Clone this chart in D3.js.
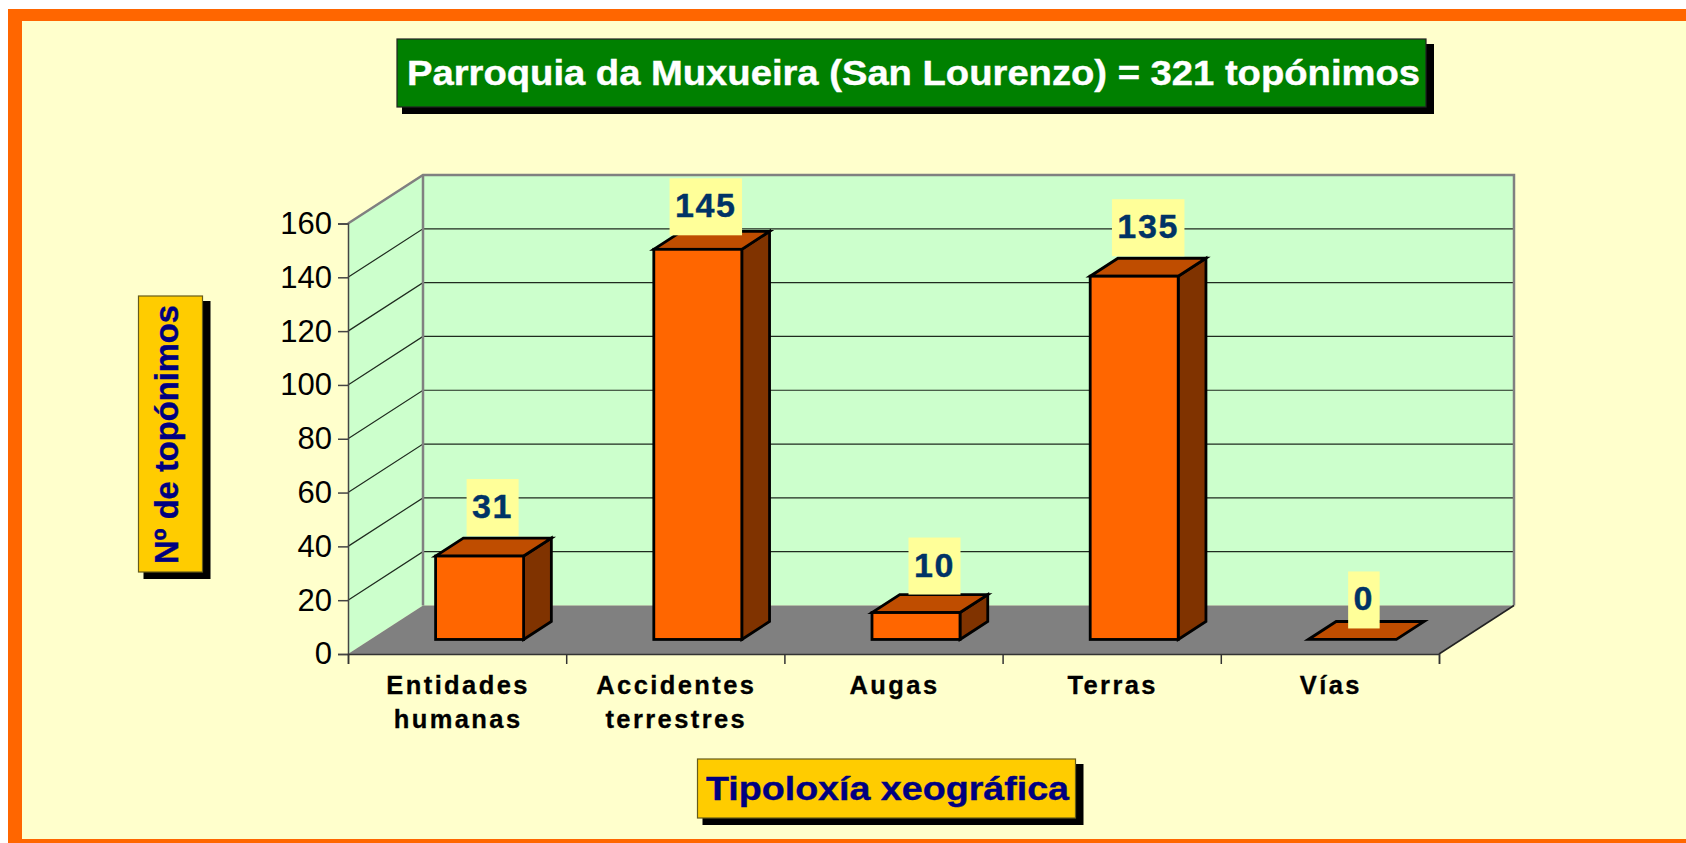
<!DOCTYPE html>
<html>
<head>
<meta charset="utf-8">
<script src="https://cdn.jsdelivr.net/npm/d3@7"></script>
<style>
  body { margin: 0; background: #fff; overflow: hidden; }
  text { font-family: "Liberation Sans", Arial, sans-serif; }
</style>
</head>
<body>
<div id="d3-container"></div>
<script>
/* DATA */
const categories = [["Entidades", "humanas"], ["Accidentes", "terrestres"], ["Augas"], ["Terras"], ["Vías"]];
const values = [31, 145, 10, 135, 0];
const valueTicks = [0, 20, 40, 60, 80, 100, 120, 140, 160];
const chartTitle = "Parroquia da Muxueira (San Lourenzo) = 321 topónimos";
const yTitle = "Nº de topónimos";
const xTitle = "Tipoloxía xeográfica";

/* CONSTANTS */
const width = 1686, height = 843;
const plot = { left: 348, right: 1439, top: 223.5, bottom: 654 };
const depthX = 75, depthY = 48.5; // how far the back wall sits from the front of the floor
const barFront = 0.3, barBack = 0.67, barWidth = 88;

const colors = {
  frame: "#ff6600", paper: "#ffffcc", wall: "#ccffcc", floor: "#808080", edge: "#808080",
  barFront: "#ff6600", barTop: "#bf4d00", barSide: "#803300",
  labelBox: "#ffff99", labelText: "#003366", titleBox: "#008000", axisBox: "#ffcc00", axisText: "#000080"
};

const svg = d3.select("#d3-container").append("svg")
  .attr("width", width)
  .attr("height", height)
  .style("display", "block");

// frame around the picture, it runs off the right edge
svg.append("rect").attr("x", 8).attr("y", 9).attr("width", width).attr("height", height).attr("fill", colors.frame);
svg.append("rect").attr("x", 22).attr("y", 21).attr("width", width).attr("height", 818).attr("fill", colors.paper);

/* SCALES */
const xScale = d3.scaleBand().domain(d3.range(categories.length)).range([plot.left, plot.right]);
const yScale = d3.scaleLinear().domain([0, 160]).range([plot.bottom, plot.top]);

// fake 3d: depth 0 is the front of the floor, depth 1 the back wall
const px = (x, depth) => x + depth * depthX;
const py = (v, depth) => yScale(v) - depth * depthY;
const poly = pts => pts.map(p => p.join(",")).join(" ");

/* WALLS AND FLOOR */
const x0 = plot.left, x1 = plot.right;
svg.append("polygon")
  .attr("points", poly([[px(x0, 1), py(0, 1)], [px(x1, 1), py(0, 1)], [px(x1, 1), py(160, 1)], [px(x0, 1), py(160, 1)]]))
  .attr("fill", colors.wall);
svg.append("polygon")
  .attr("points", poly([[x0, py(0, 0)], [px(x0, 1), py(0, 1)], [px(x0, 1), py(160, 1)], [x0, py(160, 0)]]))
  .attr("fill", colors.wall);

// gridlines, side wall + back wall
const grid = svg.append("g").attr("fill", "none").attr("stroke", "#1f2b1f").attr("stroke-width", 1.2);
grid.selectAll("polyline")
  .data(valueTicks.filter(d => d > 0 && d < 160))
  .join("polyline")
  .attr("points", d => poly([[x0, py(d, 0)], [px(x0, 1), py(d, 1)], [px(x1, 1), py(d, 1)]]));

svg.append("polygon")
  .attr("points", poly([[x0, py(0, 0)], [x1, py(0, 0)], [px(x1, 1), py(0, 1)], [px(x0, 1), py(0, 1)]]))
  .attr("fill", colors.floor);

// gray outline of the walls
svg.append("polyline")
  .attr("points", poly([[x0, py(160, 0)], [px(x0, 1), py(160, 1)], [px(x1, 1), py(160, 1)], [px(x1, 1), py(0, 1)]]))
  .attr("fill", "none").attr("stroke", colors.edge).attr("stroke-width", 2.5);
svg.append("line")
  .attr("x1", px(x0, 1)).attr("x2", px(x0, 1)).attr("y1", py(0, 1)).attr("y2", py(160, 1))
  .attr("stroke", colors.edge).attr("stroke-width", 2.5);
svg.append("line")
  .attr("x1", x1).attr("y1", py(0, 0)).attr("x2", px(x1, 1)).attr("y2", py(0, 1))
  .attr("stroke", "#222").attr("stroke-width", 1.5);

/* AXES */
const yAxis = d3.axisLeft(yScale).tickValues(valueTicks).tickSize(10).tickPadding(6);
const yAxisGroup = svg.append("g")
  .attr("class", "yAxis")
  .attr("transform", `translate(${plot.left},0)`)
  .call(yAxis);
yAxisGroup.selectAll("text").style("font-size", "31px").attr("fill", "#000");
yAxisGroup.selectAll("line, path").attr("stroke", "#444").attr("stroke-width", 1.5);

const xAxis = d3.axisBottom(d3.scaleLinear().domain([0, categories.length]).range([plot.left, plot.right]))
  .ticks(categories.length).tickSize(10).tickFormat("");
const xAxisGroup = svg.append("g")
  .attr("class", "xAxis")
  .attr("transform", `translate(0,${plot.bottom})`)
  .call(xAxis);
xAxisGroup.selectAll("line, path").attr("stroke", "#333").attr("stroke-width", 1.5);

svg.append("g").selectAll("text")
  .data(categories)
  .join("text")
  .attr("text-anchor", "middle")
  .attr("y", 694)
  .style("font-size", "25.5px")
  .style("font-weight", "bold")
  .style("letter-spacing", "2.4px")
  .attr("fill", "#000")
  .attr("stroke", "#000")
  .attr("stroke-width", 0.3)
  .each(function (lines, i) {
    d3.select(this).selectAll("tspan")
      .data(lines)
      .join("tspan")
      .attr("x", xScale(i) + xScale.bandwidth() / 2 + 1)
      .attr("dy", (d, j) => j ? 33.7 : 0)
      .text(d => d);
  });

/* BARS */
const barLeft = i => px(xScale(i) + xScale.bandwidth() / 2 - barWidth / 2, barFront);
const bars = svg.append("g")
  .attr("stroke", "#000")
  .attr("stroke-width", 2.8)
  .attr("stroke-linejoin", "miter")
  .selectAll("g")
  .data(values)
  .join("g");

// front and side are skipped for the empty bar, only its flat top shows
bars.filter(d => d > 0).append("polygon")
  .attr("fill", colors.barSide)
  .attr("points", d => {
    const r = barLeft(values.indexOf(d)) + barWidth, dx = (barBack - barFront) * depthX;
    return poly([[r, py(0, barFront)], [r + dx, py(0, barBack)], [r + dx, py(d, barBack)], [r, py(d, barFront)]]);
  });
bars.append("polygon")
  .attr("fill", colors.barTop)
  .attr("points", d => {
    const l = barLeft(values.indexOf(d)), dx = (barBack - barFront) * depthX;
    return poly([[l, py(d, barFront)], [l + barWidth, py(d, barFront)], [l + barWidth + dx, py(d, barBack)], [l + dx, py(d, barBack)]]);
  });
bars.filter(d => d > 0).append("rect")
  .attr("fill", colors.barFront)
  .attr("x", d => barLeft(values.indexOf(d)))
  .attr("width", barWidth)
  .attr("y", d => py(d, barFront))
  .attr("height", d => py(0, barFront) - py(d, barFront));

/* DATA LABELS */
// the labels were dragged by hand in the original, so each has its own shift from its bar
const labelShift = [[13, 20], [8, 14], [18.5, 18], [14, 20], [11.5, 11]];
const labels = svg.append("g").selectAll("g")
  .data(values)
  .join("g")
  .attr("transform", (d, i) => {
    const cx = barLeft(i) + barWidth / 2 + labelShift[i][0];
    return `translate(${cx},${py(d, barFront) - labelShift[i][1]})`;
  });
labels.append("rect")
  .attr("x", d => -(String(d).length * 20.5 + 11) / 2)
  .attr("width", d => String(d).length * 20.5 + 11)
  .attr("y", -57)
  .attr("height", 57)
  .attr("fill", colors.labelBox);
labels.append("text")
  .attr("text-anchor", "middle")
  .attr("y", -18)
  .style("font-size", "34px")
  .style("font-weight", "bold")
  .style("letter-spacing", "1.7px")
  .attr("fill", colors.labelText)
  .attr("stroke", colors.labelText)
  .attr("stroke-width", 0.4)
  .text(d => d);

/* TITLE BOXES */
// box with a black drop shadow, the text gets squeezed to the width it has in the picture
function titleBox(box, fill, border) {
  svg.append("rect")
    .attr("x", box.x + 5).attr("y", box.y + 5)
    .attr("width", box.w + 3).attr("height", box.h + 2)
    .attr("fill", "#000");
  svg.append("rect")
    .attr("x", box.x).attr("y", box.y)
    .attr("width", box.w).attr("height", box.h)
    .attr("fill", fill)
    .attr("stroke", border)
    .attr("stroke-width", 1.2);
}
function fitText(sel, len, size, fill) {
  return sel
    .style("font-size", size + "px")
    .style("font-weight", "bold")
    .attr("fill", fill)
    .attr("stroke", fill)
    .attr("stroke-width", 0.4)
    .attr("textLength", len)
    .attr("lengthAdjust", "spacingAndGlyphs");
}

titleBox({ x: 397, y: 39, w: 1029, h: 68 }, colors.titleBox, "#222");
fitText(svg.append("text").attr("x", 407).attr("y", 85).text(chartTitle), 1013, 35, "#fff");

titleBox({ x: 138.5, y: 296, w: 64, h: 276 }, colors.axisBox, "#665c1a");
fitText(svg.append("text").attr("transform", "translate(178,564) rotate(-90)").text(yTitle), 259, 34, colors.axisText);

titleBox({ x: 697.5, y: 759, w: 378, h: 59 }, colors.axisBox, "#665c1a");
fitText(svg.append("text").attr("x", 706).attr("y", 800).text(xTitle), 363, 34, colors.axisText);
</script>
</body>
</html>
